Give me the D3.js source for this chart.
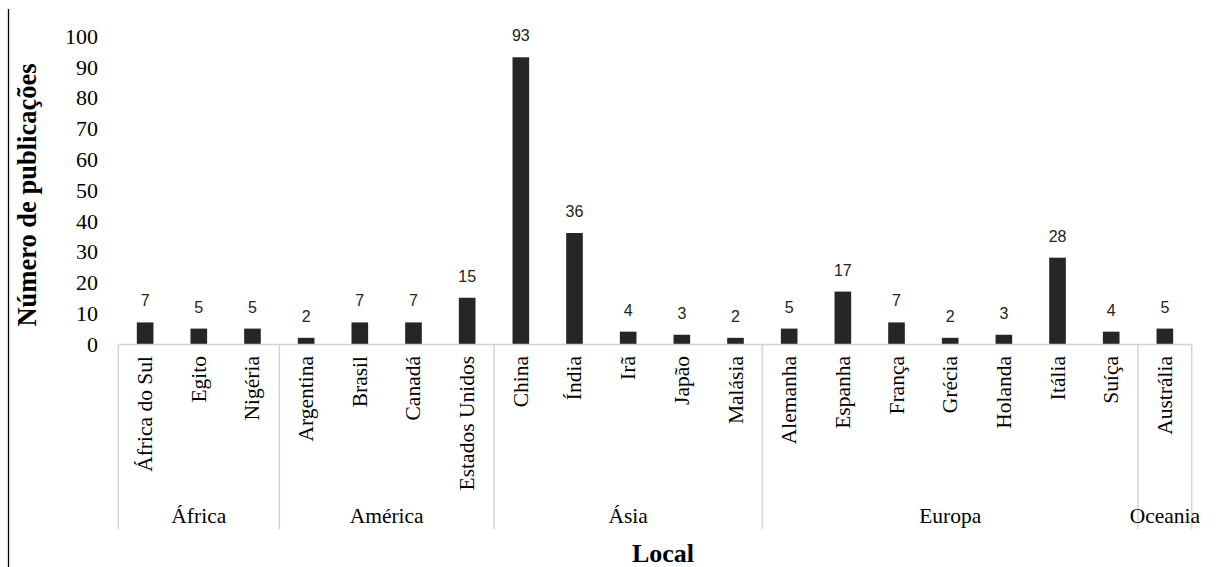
<!DOCTYPE html>
<html>
<head>
<meta charset="utf-8">
<script src="https://cdn.jsdelivr.net/npm/d3@7/dist/d3.min.js"></script>
<style>
  html, body { margin: 0; padding: 0; background: #fff; }
  svg { display: block; }
</style>
</head>
<body>
<svg id="chart" width="1216" height="567"></svg>
<script>
// Publications per country, grouped by continent
const countries = [
  "África do Sul", "Egito", "Nigéria",
  "Argentina", "Brasil", "Canadá", "Estados Unidos",
  "China", "Índia", "Irã", "Japão", "Malásia",
  "Alemanha", "Espanha", "França", "Grécia", "Holanda", "Itália", "Suíça",
  "Austrália"
];
const publications = [
  7, 5, 5,
  2, 7, 7, 15,
  93, 36, 4, 3, 2,
  5, 17, 7, 2, 3, 28, 4,
  5
];
const continents = ["África", "América", "Ásia", "Europa", "Oceania"];
const continentSizes = [3, 4, 5, 7, 1];
const yTicks = [0, 10, 20, 30, 40, 50, 60, 70, 80, 90, 100];

const svg = d3.select("#chart");
const serif = "'Liberation Serif', 'Times New Roman', serif";
const sans = "'Liberation Sans', Arial, sans-serif";

const left = 118.3, right = 1191.7;
const x = d3.scaleBand()
  .domain(countries)
  .range([left, right])
  .paddingInner(0.69)
  .paddingOuter(0.345);

const y = d3.scaleLinear().domain([0, 100]).range([344, 35.7]);

// Page border on the left
svg.append("line")
  .attr("x1", 8.5).attr("x2", 8.5)
  .attr("y1", 9).attr("y2", 567)
  .attr("stroke", "#000").attr("stroke-width", 1.3);

// Value axis: labels only
const yAxis = d3.axisLeft(y).tickValues(yTicks).tickSize(0).tickPadding(0);
const yg = svg.append("g").attr("transform", "translate(98,0)").call(yAxis);
yg.select(".domain").remove();
yg.selectAll("text")
  .attr("font-family", serif)
  .attr("font-size", 22)
  .attr("fill", "#000")
  .attr("dy", "0.34em");

// Bars
svg.append("g").selectAll("rect")
  .data(countries)
  .join("rect")
  .attr("x", d => x(d))
  .attr("width", x.bandwidth())
  .attr("y", (d, i) => y(publications[i]))
  .attr("height", (d, i) => y(0) - y(publications[i]))
  .attr("fill", "#262626");

// Value labels
svg.append("g").selectAll("text")
  .data(countries)
  .join("text")
  .attr("x", d => x(d) + x.bandwidth() / 2)
  .attr("y", (d, i) => y(publications[i]) - 16)
  .attr("text-anchor", "middle")
  .attr("font-family", sans)
  .attr("font-size", 16)
  .attr("fill", "#222")
  .text((d, i) => publications[i]);

// Category axis line and continent separators
const gridColor = "#d4d4d4";
svg.append("line")
  .attr("x1", left).attr("x2", right)
  .attr("y1", y(0) + 0.5).attr("y2", y(0) + 0.5)
  .attr("stroke", gridColor).attr("stroke-width", 1.5);

const step = x.step();
const gap = step - x.bandwidth();
let start = 0;
const groups = continents.map((name, i) => {
  const first = countries[start];
  const last = countries[start + continentSizes[i] - 1];
  const x0 = x(first) - gap / 2;
  const x1 = x(last) + x.bandwidth() + gap / 2;
  start += continentSizes[i];
  return { name, x0, x1 };
});

const sepBottom = 529;
const bounds = [groups[0].x0].concat(groups.map(g => g.x1));
svg.append("g").selectAll("line")
  .data(bounds)
  .join("line")
  .attr("x1", d => d).attr("x2", d => d)
  .attr("y1", y(0) + 0.5).attr("y2", sepBottom)
  .attr("stroke", gridColor).attr("stroke-width", 1.5);

// Country names, rotated
svg.append("g").selectAll("text")
  .data(countries)
  .join("text")
  .attr("transform", d => `translate(${x(d) + x.bandwidth() / 2 + 7},356) rotate(-90)`)
  .attr("text-anchor", "end")
  .attr("font-family", serif)
  .attr("font-size", 21.5)
  .attr("fill", "#000")
  .text(d => d);

// Continent names
svg.append("g").selectAll("text")
  .data(groups)
  .join("text")
  .attr("x", d => (d.x0 + d.x1) / 2)
  .attr("y", 523)
  .attr("text-anchor", "middle")
  .attr("font-family", serif)
  .attr("font-size", 21.5)
  .attr("fill", "#000")
  .text(d => d.name);

// Axis titles
svg.append("text")
  .attr("x", 663).attr("y", 561.5)
  .attr("text-anchor", "middle")
  .attr("font-family", serif)
  .attr("font-weight", "bold")
  .attr("font-size", 26)
  .attr("fill", "#000")
  .text("Local");

svg.append("text")
  .attr("transform", "translate(36,195) rotate(-90)")
  .attr("text-anchor", "middle")
  .attr("font-family", serif)
  .attr("font-weight", "bold")
  .attr("font-size", 26.5)
  .attr("fill", "#000")
  .text("Número de publicações");
</script>
</body>
</html>
